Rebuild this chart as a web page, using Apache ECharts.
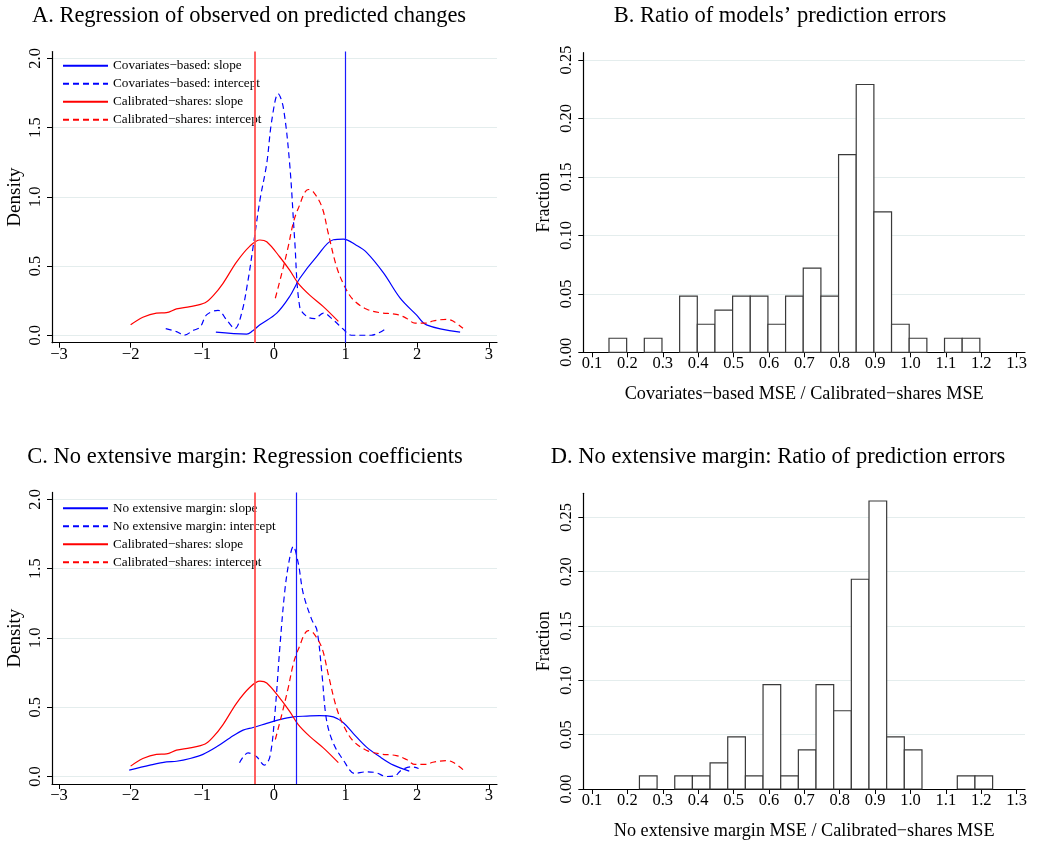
<!DOCTYPE html>
<html>
<head>
<meta charset="utf-8">
<title>Regression coefficients and prediction error ratios</title>
<script src="https://cdn.jsdelivr.net/npm/echarts@6/dist/echarts.min.js"></script>
<style>
  html, body { margin: 0; padding: 0; background: #ffffff; }
  #chart { width: 1039px; height: 841px; }
</style>
</head>
<body>
<div id="chart"></div>
<script>
// ---- Tick values ----
const coefTicks = [-3, -2, -1, 0, 1, 2, 3];
const densityTicks = [0, 0.5, 1.0, 1.5, 2.0];
const ratioTicks = [0.1, 0.2, 0.3, 0.4, 0.5, 0.6, 0.7, 0.8, 0.9, 1.0, 1.1, 1.2, 1.3];
const fractionTicks = [0, 0.05, 0.10, 0.15, 0.20, 0.25];

// ---- Kernel densities of regression coefficients: [coefficient, density] ----
const covSlope = [
  [-0.81, 0.022], [-0.38, 0.008], [-0.30, 0.03], [-0.195, 0.075], [0.04, 0.16],
  [0.22, 0.28], [0.36, 0.41], [0.60, 0.57], [0.83, 0.69], [0.97, 0.695],
  [1.15, 0.65], [1.29, 0.60], [1.53, 0.45], [1.76, 0.27], [1.99, 0.147],
  [2.13, 0.075], [2.60, 0.022]
];
const covIntercept = [
  [-1.51, 0.048], [-1.36, 0.026], [-1.25, 0.0], [-1.13, 0.034], [-1.03, 0.058],
  [-0.94, 0.147], [-0.78, 0.18], [-0.66, 0.11], [-0.545, 0.048], [-0.45, 0.16],
  [-0.36, 0.40], [-0.29, 0.64], [-0.195, 0.976], [-0.10, 1.24], [-0.03, 1.55],
  [0.06, 1.745], [0.13, 1.65], [0.22, 1.24], [0.29, 0.69], [0.36, 0.207],
  [0.46, 0.135], [0.57, 0.12], [0.69, 0.16], [0.83, 0.11], [0.97, 0.043],
  [1.08, 0.0], [1.36, 0.0], [1.57, 0.05]
];
const calSlope = [
  [-2.0, 0.075], [-1.83, 0.13], [-1.64, 0.16], [-1.5, 0.163], [-1.36, 0.19],
  [-1.17, 0.207], [-0.96, 0.235], [-0.85, 0.284], [-0.71, 0.375], [-0.52, 0.53],
  [-0.335, 0.644], [-0.195, 0.688], [-0.10, 0.675], [0.08, 0.567], [0.22, 0.47],
  [0.34, 0.375], [0.50, 0.29], [0.69, 0.207], [0.90, 0.10]
];
const calIntercept = [
  [0.02, 0.267], [0.11, 0.447], [0.20, 0.64], [0.27, 0.81], [0.34, 0.916],
  [0.48, 1.053], [0.55, 1.036], [0.67, 0.928], [0.76, 0.735], [0.875, 0.495],
  [0.99, 0.35], [1.11, 0.255], [1.29, 0.19], [1.48, 0.163], [1.71, 0.151],
  [1.85, 0.123], [1.97, 0.087], [2.13, 0.087], [2.22, 0.103], [2.41, 0.115],
  [2.50, 0.103], [2.64, 0.05]
];
const nemSlope = [
  [-2.02, 0.046], [-1.73, 0.082], [-1.5, 0.106], [-1.36, 0.11], [-1.17, 0.13],
  [-0.99, 0.16], [-0.80, 0.214], [-0.61, 0.28], [-0.43, 0.335], [-0.29, 0.354],
  [-0.10, 0.383], [0.08, 0.41], [0.27, 0.43], [0.46, 0.436], [0.64, 0.44],
  [0.83, 0.43], [0.97, 0.388], [1.11, 0.31], [1.29, 0.214], [1.48, 0.142],
  [1.67, 0.082], [1.89, 0.039]
];
const nemIntercept = [
  [-0.48, 0.099], [-0.36, 0.17], [-0.24, 0.142], [-0.135, 0.082], [-0.056, 0.142],
  [0.014, 0.455], [0.084, 0.937], [0.154, 1.347], [0.22, 1.576], [0.27, 1.66],
  [0.34, 1.54], [0.41, 1.32], [0.53, 1.13], [0.60, 1.058], [0.67, 0.745],
  [0.735, 0.407], [0.83, 0.24], [0.97, 0.118], [1.13, 0.022], [1.29, 0.034],
  [1.43, 0.027], [1.57, 0.0], [1.69, 0.005], [1.78, 0.046], [1.92, 0.07], [2.02, 0.058]
];

// ---- Vertical reference lines (slope coefficients) ----
const calSlopeRef = -0.27;
const covSlopeRef = 1.0;
const nemSlopeRef = 0.31;

// ---- Histograms of MSE ratios ----
const covRatioBinStart = 0.148;
const covRatioBinWidth = 0.0499;
const covRatioFractions = [0.012, 0, 0.012, 0, 0.048, 0.024, 0.036, 0.048, 0.048, 0.024,
  0.048, 0.072, 0.048, 0.169, 0.229, 0.120, 0.024, 0.012, 0, 0.012, 0.012];
const nemRatioBinStart = 0.234;
const nemRatioBinWidth = 0.0499;
const nemRatioFractions = [0.012, 0, 0.012, 0.012, 0.024, 0.048, 0.012, 0.096, 0.012, 0.036,
  0.096, 0.072, 0.193, 0.265, 0.048, 0.036, 0, 0, 0.012, 0.012];

// ---- Labels ----
const titles = [
  'A. Regression of observed on predicted changes',
  'B. Ratio of models\u2019 prediction errors',
  'C. No extensive margin: Regression coefficients',
  'D. No extensive margin: Ratio of prediction errors'
];
const namesA = ['Covariates\u2212based: slope', 'Covariates\u2212based: intercept',
  'Calibrated\u2212shares: slope', 'Calibrated\u2212shares: intercept'];
const namesC = ['No extensive margin: slope', 'No extensive margin: intercept',
  'Calibrated\u2212shares: slope', 'Calibrated\u2212shares: intercept'];
const ratioTitleB = 'Covariates\u2212based MSE / Calibrated\u2212shares MSE';
const ratioTitleD = 'No extensive margin MSE / Calibrated\u2212shares MSE';

// ---- Styling ----
const FONT = '"Liberation Serif", "DejaVu Serif", serif';
const BLUE = '#0000ff';
const RED = '#ff0000';
const GRID_COLOR = '#e4eded';
const AXIS_LINE = { show: true, onZero: false, lineStyle: { color: '#000', width: 1.2 } };

function binsToData(start, width, fractions) {
  const out = [];
  fractions.forEach((f, i) => {
    if (f > 0) out.push([start + i * width, start + (i + 1) * width, f]);
  });
  return out;
}

function minusFmt(v) {
  return v < 0 ? '\u2212' + Math.abs(v) : String(v);
}

function xAxisCoef(gridIndex) {
  return {
    type: 'value', gridIndex, min: -3.098, max: 3.115,
    axisLine: AXIS_LINE,
    axisTick: { show: true, length: 5, lineStyle: { color: '#000', width: 1 }, customValues: coefTicks },
    axisLabel: { customValues: coefTicks, formatter: minusFmt, fontFamily: FONT, fontSize: 16.5, color: '#000', margin: 3 },
    splitLine: { show: false }
  };
}
function yAxisDensity(gridIndex) {
  return {
    type: 'value', gridIndex, min: -0.054, max: 2.05,
    name: 'Density', nameLocation: 'middle', nameGap: 27, nameRotate: 90,
    nameTextStyle: { fontFamily: FONT, fontSize: 19, color: '#000' },
    axisLine: AXIS_LINE,
    axisTick: { show: true, length: 5, lineStyle: { color: '#000', width: 1 }, customValues: densityTicks },
    axisLabel: { customValues: densityTicks, rotate: 90, formatter: v => v.toFixed(1), fontFamily: FONT, fontSize: 16.5, color: '#000', margin: 8 },
    splitLine: { show: true, lineStyle: { color: GRID_COLOR, width: 1 } }
  };
}
function xAxisRatio(gridIndex, title) {
  return {
    type: 'value', gridIndex, min: 0.0754, max: 1.3235,
    name: title, nameLocation: 'middle', nameGap: 33,
    nameTextStyle: { fontFamily: FONT, fontSize: 18.2, color: '#000' },
    axisLine: AXIS_LINE,
    axisTick: { show: true, length: 5, lineStyle: { color: '#000', width: 1 }, customValues: ratioTicks },
    axisLabel: { customValues: ratioTicks, formatter: v => v.toFixed(1), fontFamily: FONT, fontSize: 16.5, color: '#000', margin: 3 },
    splitLine: { show: false }
  };
}
function yAxisFraction(gridIndex, max) {
  return {
    type: 'value', gridIndex, min: 0, max,
    name: 'Fraction', nameLocation: 'middle', nameGap: 30, nameRotate: 90,
    nameTextStyle: { fontFamily: FONT, fontSize: 18, color: '#000' },
    axisLine: AXIS_LINE,
    axisTick: { show: true, length: 5, lineStyle: { color: '#000', width: 1 }, customValues: fractionTicks },
    axisLabel: { customValues: fractionTicks, rotate: 90, formatter: v => v.toFixed(2), fontFamily: FONT, fontSize: 16.5, color: '#000', margin: 8 },
    splitLine: { show: true, lineStyle: { color: GRID_COLOR, width: 1 } }
  };
}

function densityLine(name, data, color, dashed, axisIndex) {
  return {
    type: 'line', name, data, xAxisIndex: axisIndex, yAxisIndex: axisIndex,
    smooth: 0.35, symbol: 'none', silent: true, z: 3,
    lineStyle: { color, width: 1.2, type: dashed ? [6, 4] : 'solid' },
    itemStyle: { color }
  };
}

function refLines(axisIndex, lines) {
  return {
    type: 'line', data: [], xAxisIndex: axisIndex, yAxisIndex: axisIndex, silent: true, z: 4,
    markLine: {
      silent: true, symbol: 'none', label: { show: false }, animation: false,
      data: lines.map(l => ({ xAxis: l.value, lineStyle: { color: l.color, width: l.width, type: 'solid' } }))
    }
  };
}

function histogram(data, axisIndex) {
  return {
    type: 'custom', xAxisIndex: axisIndex, yAxisIndex: axisIndex, silent: true,
    dimensions: ['from', 'to', 'fraction'],
    encode: { x: [0, 1], y: 2 },
    data,
    renderItem: (params, api) => {
      const p0 = api.coord([api.value(0), api.value(2)]);
      const p1 = api.coord([api.value(1), 0]);
      return {
        type: 'rect',
        shape: { x: p0[0], y: p0[1], width: p1[0] - p0[0], height: p1[1] - p0[1] },
        style: { fill: '#ffffff', stroke: '#3a3a3a', lineWidth: 1.2 }
      };
    }
  };
}

function legendFor(names, top) {
  return {
    orient: 'vertical', left: 62, top, padding: 0, itemGap: 4,
    itemWidth: 45, itemHeight: 14, selectedMode: false,
    itemStyle: { opacity: 0 },
    data: names,
    textStyle: { fontFamily: FONT, fontSize: 13.2, lineHeight: 14, color: '#000' }
  };
}

const chart = echarts.init(document.getElementById('chart'), null, { renderer: 'canvas' });

const titleStyle = { fontFamily: FONT, fontSize: 22.5, fontWeight: 'normal', color: '#000' };

chart.setOption({
  backgroundColor: '#ffffff',
  animation: false,
  title: [
    { text: titles[0], left: 249, top: 5, textAlign: 'center', padding: 0, textStyle: titleStyle },
    { text: titles[1], left: 780, top: 5, textAlign: 'center', padding: 0, textStyle: titleStyle },
    { text: titles[2], left: 245, top: 446, textAlign: 'center', padding: 0, textStyle: titleStyle },
    { text: titles[3], left: 778, top: 446, textAlign: 'center', padding: 0, textStyle: titleStyle }
  ],
  legend: [legendFor(namesA, 58.7), legendFor(namesC, 501.3)],
  grid: [
    { left: 52, top: 51.5, width: 445, height: 291.2 },
    { left: 583.3, top: 52.7, width: 441.7, height: 299.6 },
    { left: 52, top: 492.4, width: 445, height: 291.6 },
    { left: 583.3, top: 493.3, width: 441.7, height: 300 }
  ],
  xAxis: [xAxisCoef(0), xAxisRatio(1, ratioTitleB), xAxisCoef(2), xAxisRatio(3, ratioTitleD)],
  yAxis: [yAxisDensity(0), yAxisFraction(1, 0.2562), yAxisDensity(2), yAxisFraction(3, 0.2721)],
  series: [
    // Panel A
    densityLine(namesA[0], covSlope, BLUE, false, 0),
    densityLine(namesA[1], covIntercept, BLUE, true, 0),
    densityLine(namesA[2], calSlope, RED, false, 0),
    densityLine(namesA[3], calIntercept, RED, true, 0),
    refLines(0, [
      { value: calSlopeRef, color: '#ff5050', width: 1.8 },
      { value: covSlopeRef, color: '#1a1aff', width: 1.2 }
    ]),
    // Panel B
    histogram(binsToData(covRatioBinStart, covRatioBinWidth, covRatioFractions), 1),
    // Panel C
    densityLine(namesC[0], nemSlope, BLUE, false, 2),
    densityLine(namesC[1], nemIntercept, BLUE, true, 2),
    densityLine(namesC[2], calSlope, RED, false, 2),
    densityLine(namesC[3], calIntercept, RED, true, 2),
    refLines(2, [
      { value: calSlopeRef, color: '#ff5050', width: 1.8 },
      { value: nemSlopeRef, color: '#1a1aff', width: 1.2 }
    ]),
    // Panel D
    histogram(binsToData(nemRatioBinStart, nemRatioBinWidth, nemRatioFractions), 3)
  ]
});
</script>
</body>
</html>
